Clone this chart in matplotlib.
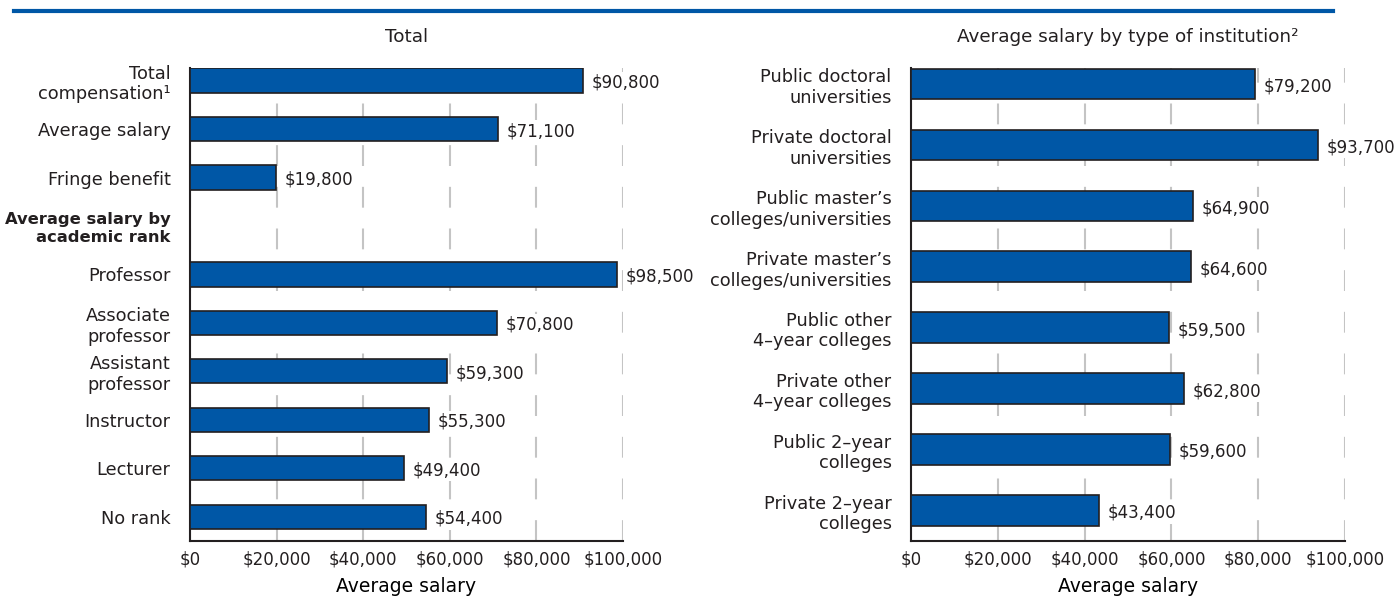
import matplotlib.pyplot as plt

BLUE = "#0057a6"
INK = "#231f20"
GRID = "#c4c4c4"

total_labels = ["Total\ncompensation¹", "Average salary", "Fringe benefit",
                "Average salary by\nacademic rank", "Professor", "Associate\nprofessor",
                "Assistant\nprofessor", "Instructor", "Lecturer", "No rank"]
total_values = [90800, 71100, 19800, None, 98500, 70800, 59300, 55300, 49400, 54400]

inst_labels = ["Public doctoral\nuniversities", "Private doctoral\nuniversities",
               "Public master\u2019s\ncolleges/universities",
               "Private master\u2019s\ncolleges/universities",
               "Public other\n4\u2013year colleges", "Private other\n4\u2013year colleges",
               "Public 2\u2013year\ncolleges", "Private 2\u2013year\ncolleges"]
inst_values = [79200, 93700, 64900, 64600, 59500, 62800, 59600, 43400]

xticks = [0, 20000, 40000, 60000, 80000, 100000]

plt.rcParams["font.family"] = ["DejaVu Sans"]
plt.rcParams["text.color"] = INK

fig = plt.figure(figsize=(14, 5.96), dpi=100)


def draw_panel(ax, labels, values, title):
    n = len(labels)
    for i, v in enumerate(values):
        if v is None:
            continue
        ax.barh(i, v, height=0.5, color=BLUE, edgecolor=INK, linewidth=1.2, zorder=3)
        ax.text(v + 2000, i + 0.04, "${:,}".format(v), va="center", ha="left",
                fontsize=12, color=INK, zorder=4,
                bbox=dict(facecolor="white", edgecolor="none", pad=1.5))
    ax.set_ylim(n - 0.5, -0.26)
    ax.set_xlim(0, 100000)
    ax.set_yticks(range(n))
    ax.set_yticklabels(labels, fontsize=12.8)
    ax.set_xticks(xticks)
    ax.set_xticklabels(["${:,}".format(t) for t in xticks], fontsize=12)
    ax.tick_params(axis="both", length=0, colors=INK)
    ax.tick_params(axis="y", pad=14)
    ax.tick_params(axis="x", pad=7)
    ax.set_axisbelow(True)
    ax.grid(axis="x", color=GRID, linestyle=(0, (10, 10)), linewidth=1.5)
    for s in ["top", "right"]:
        ax.spines[s].set_visible(False)
    for s in ["left", "bottom"]:
        ax.spines[s].set_color(INK)
        ax.spines[s].set_linewidth(1.5)
    ax.set_xlabel("Average salary", fontsize=13.5, labelpad=6)
    ax.set_title(title, fontsize=13.2, pad=19)


ax1 = fig.add_axes([0.1357, 0.0923, 0.3093, 0.7936])
draw_panel(ax1, total_labels, total_values, "Total")
for lbl in ax1.get_yticklabels():
    if lbl.get_text().startswith("Average salary by"):
        lbl.set_fontweight("bold")
        lbl.set_fontsize(11.8)

ax2 = fig.add_axes([0.6507, 0.0923, 0.31, 0.7936])
draw_panel(ax2, inst_labels, inst_values, "Average salary by type of institution²")

# blue rule across the top
fig.add_artist(plt.Line2D([14 / 1400, 1333 / 1400], [1 - 11 / 596, 1 - 11 / 596],
                          color=BLUE, linewidth=3, transform=fig.transFigure))

fig.savefig("out.png", dpi=100)
